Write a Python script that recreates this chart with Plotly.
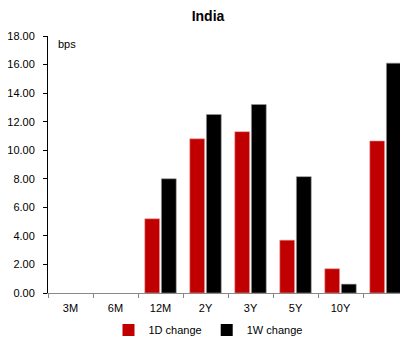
import plotly.graph_objects as go

categories = ["3M", "6M", "12M", "2Y", "3Y", "5Y", "10Y", " "]
change_1d = [0, 0, 5.2, 10.8, 11.3, 3.7, 1.7, 10.65]
change_1w = [0, 0, 8.0, 12.5, 13.2, 8.15, 0.62, 16.1]
y_ticks = [0, 2, 4, 6, 8, 10, 12, 14, 16, 18]

font = "Liberation Sans"

# hide outline on zero-height bars
lw_1d = [0 if v == 0 else 0.6 for v in change_1d]
lw_1w = [0 if v == 0 else 0.6 for v in change_1w]

fig = go.Figure()
fig.add_trace(go.Bar(x=categories, y=change_1d, name="1D change",
                     marker=dict(color="#C00000", line=dict(color="#E8A0A0", width=lw_1d))))
fig.add_trace(go.Bar(x=categories, y=change_1w, name="1W change",
                     marker=dict(color="#000000", line=dict(color="#999999", width=lw_1w))))

# page body has an 8px margin, so the figure fills the remaining viewport
W, H = 400, 332

fig.update_layout(
    width=W, height=H,
    margin=dict(l=40, r=0, t=28, b=47, autoexpand=False),
    paper_bgcolor="white", plot_bgcolor="white",
    barmode="group", bargap=0.26, bargroupgap=0.11,
    font=dict(family=font, size=11, color="#000000"),
    title=dict(text="<b>India</b>", x=0.5, xanchor="center", xref="container",
               y=1 - 3 / H, yanchor="top", yref="container",
               font=dict(family=font, size=14, color="#000000")),
    showlegend=True,
    legend=dict(orientation="h", x=0.5, xanchor="center", y=1 - 322 / H, yanchor="middle",
                yref="container", xref="container",
                font=dict(family=font, size=11), itemwidth=30, traceorder="normal"),
    xaxis=dict(showline=True, linecolor="#888888", linewidth=1,
               ticks="outside", ticklen=4, tickcolor="#888888", tickson="boundaries",
               tickfont=dict(size=11), showgrid=False, ticklabelstandoff=5),
    yaxis=dict(range=[0, 18], tickvals=y_ticks, tickformat=".2f",
               showline=True, linecolor="#000000", linewidth=1,
               ticks="outside", ticklen=4, tickcolor="#000000",
               showgrid=False, zeroline=False, tickfont=dict(size=11),
               ticklabelstandoff=6),
    annotations=[dict(text="bps", xref="paper", yref="paper", x=0.022, y=1 - 8 / 257,
                      xanchor="left", yanchor="middle", showarrow=False,
                      font=dict(family=font, size=11))],
)

fig.write_html("out.html")
